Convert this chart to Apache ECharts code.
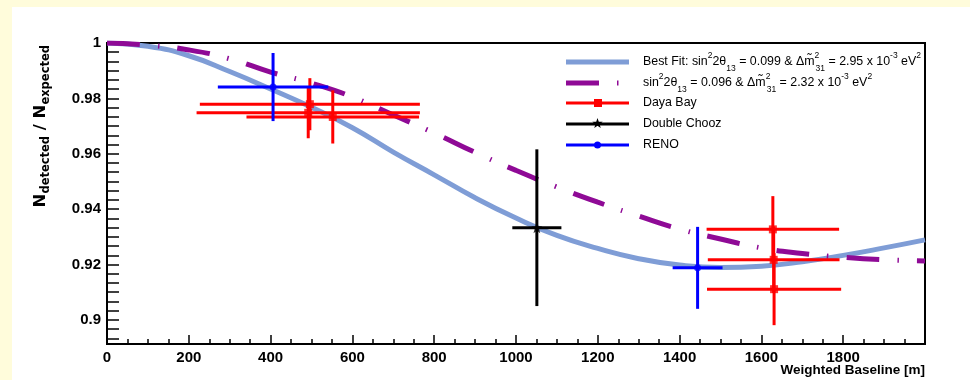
<!DOCTYPE html>
<html>
<head>
<meta charset="utf-8">
<script src="https://cdn.jsdelivr.net/npm/echarts@6/dist/echarts.min.js"></script>
<style>
  html, body { margin: 0; padding: 0; background: #fffcdb; }
  #chart { width: 970px; height: 380px; }
</style>
</head>
<body>
<div id="chart"></div>
<script>
// Baseline grid (m) for the two oscillation curves
const curveBaseline = [0, 100, 200, 300, 400, 500, 600, 700, 800, 900, 1000,
  1100, 1200, 1300, 1400, 1500, 1600, 1700, 1800, 1900, 2000];
// Best fit: sin^2 2theta13 = 0.099, dm31^2 = 2.95e-3 eV^2
const bestFitRatio = [1.0000, 0.9988, 0.9954, 0.9897, 0.9834, 0.9768, 0.9694, 0.9606, 0.9524, 0.9441, 0.9368,
  0.9305, 0.9258, 0.9221, 0.9198, 0.9189, 0.9194, 0.9210, 0.9233, 0.9260, 0.9289];
// Alternative: sin^2 2theta13 = 0.096, dm31^2 = 2.32e-3 eV^2
const altRatio = [1.0000, 0.9992, 0.9975, 0.9943, 0.9895, 0.9855, 0.9805, 0.9740, 0.9675, 0.9605, 0.9540,
  0.9480, 0.9425, 0.9375, 0.9328, 0.9292, 0.9260, 0.9240, 0.9226, 0.9217, 0.9213];

// Daya Bay detectors: baseline, ratio, baseline half-width, ratio error
const dayaBayBaseline = [496, 492, 552, 1628, 1630, 1631];
const dayaBayRatio = [0.9779, 0.9748, 0.9733, 0.9327, 0.9217, 0.9111];
const dayaBayBaselineErr = [269, 273, 211, 162, 161, 164];
const dayaBayRatioErr = [0.0094, 0.0092, 0.0096, 0.0120, 0.0120, 0.0130];

// Double Chooz far detector
const doubleChoozBaseline = [1051];
const doubleChoozRatio = [0.9333];
const doubleChoozBaselineErr = [60];
const doubleChoozRatioErr = [0.0283];

// RENO near and far detectors
const renoBaseline = [406, 1444];
const renoRatio = [0.9841, 0.9188];
const renoBaselineErr = [135, 61];
const renoRatioErr = [0.0123, 0.0148];

// Axis ticks
const yTickLabels = [0.9, 0.92, 0.94, 0.96, 0.98, 1];

const fitColor = '#7f9dd6';
const altColor = '#8f0a96';
const starPts = [[0, -10], [2.35, -3.24], [9.51, -3.09], [3.8, 1.24], [5.88, 8.09], [0, 4],
  [-5.88, 8.09], [-3.8, 1.24], [-9.51, -3.09], [-2.35, -3.24]];
const starPath = 'path://M' + starPts.map(p => p.join(',')).join(' L') + ' Z';

function zip(xs, ys) { return xs.map((x, i) => [x, ys[i]]); }
function errRows(xs, ys, exs, eys) { return xs.map((x, i) => [x, ys[i], exs[i], eys[i]]); }

function errorBars(color) {
  return function (params, api) {
    const x = api.value(0), y = api.value(1), ex = api.value(2), ey = api.value(3);
    const a = api.coord([x - ex, y]), b = api.coord([x + ex, y]);
    const c = api.coord([x, y + ey]), d = api.coord([x, y - ey]);
    const st = { stroke: color, lineWidth: 3 };
    return {
      type: 'group',
      children: [
        { type: 'line', shape: { x1: a[0], y1: a[1], x2: b[0], y2: b[1] }, style: st },
        { type: 'line', shape: { x1: c[0], y1: c[1], x2: d[0], y2: d[1] }, style: st }
      ]
    };
  };
}

// y tick marks: 6 subdivisions per 0.02
const yMinor = [];
for (let k = 0; k <= 32; k++) yMinor.push(+(0.89333 + 0.0033333 * k).toFixed(5));

const chart = echarts.init(document.getElementById('chart'), null, { renderer: 'canvas' });

const LF = 'Liberation Sans';
const LS = 12.4;
const legendRich = {
  t: { fontFamily: LF, fontSize: LS, lineHeight: 22, verticalAlign: 'middle' },
  sup: { fontFamily: LF, fontSize: 8.5, lineHeight: 10, verticalAlign: 'top' },
  supS: { fontFamily: LF, fontSize: 8.5, lineHeight: 10, verticalAlign: 'top', width: 1 },
  sub: { fontFamily: LF, fontSize: 8.5, lineHeight: 10, verticalAlign: 'bottom' }
};

function legendRow(y, sampleChildren, text) {
  return {
    type: 'group',
    children: sampleChildren.concat([{
      type: 'text', x: 643, y: y,
      style: { text: text, rich: legendRich, align: 'left', verticalAlign: 'middle', fill: '#000', fontFamily: LF, fontSize: LS }
    }])
  };
}

const option = {
  backgroundColor: '#fffcdb',
  animation: false,
  grid: { left: 107, top: 43, right: 45, bottom: 36, show: true, borderColor: '#000', borderWidth: 2, backgroundColor: 'transparent' },
  xAxis: {
    type: 'value', min: 0, max: 2000, interval: 200,
    axisLine: { show: true, onZero: false, lineStyle: { color: '#000', width: 2 } },
    axisTick: { show: true, inside: true, length: 9, lineStyle: { color: '#000', width: 1.5 } },
    minorTick: { show: true, splitNumber: 4, length: 5, lineStyle: { color: '#000', width: 1.5 } },
    splitLine: { show: false },
    axisLabel: {
      showMaxLabel: false, margin: 6, color: '#000',
      fontFamily: LF, fontWeight: 'bold', fontSize: 15,
      formatter: v => String(v)
    }
  },
  yAxis: {
    type: 'value', min: 0.8913, max: 1.0,
    axisLine: { show: true, onZero: false, lineStyle: { color: '#000', width: 2 } },
    axisTick: { show: true, inside: true, length: 12, customValues: yMinor, lineStyle: { color: '#000', width: 1.5 } },
    splitLine: { show: false },
    axisLabel: {
      customValues: yTickLabels, margin: 6, color: '#000',
      fontFamily: LF, fontWeight: 'bold', fontSize: 15,
      formatter: v => (Math.abs(v - 1) < 1e-9 ? '1' : String(+v.toFixed(2)))
    }
  },
  series: [
    {
      name: 'Best Fit', type: 'line', data: zip(curveBaseline, bestFitRatio),
      smooth: true, showSymbol: false, symbol: 'none', z: 2,
      lineStyle: { color: fitColor, width: 5 }
    },
    {
      name: 'Alternative', type: 'line', data: zip(curveBaseline, altRatio),
      smooth: true, showSymbol: false, symbol: 'none', z: 3,
      lineStyle: { color: altColor, width: 5, type: [33, 18, 1.5, 18], cap: 'butt' }
    },
    {
      name: 'Daya Bay err', type: 'custom', z: 5,
      renderItem: errorBars('#ff0000'),
      data: errRows(dayaBayBaseline, dayaBayRatio, dayaBayBaselineErr, dayaBayRatioErr)
    },
    {
      name: 'Daya Bay', type: 'scatter', z: 6, symbol: 'rect', symbolSize: 8,
      itemStyle: { color: '#ff0000' }, data: zip(dayaBayBaseline, dayaBayRatio)
    },
    {
      name: 'Double Chooz err', type: 'custom', z: 5,
      renderItem: errorBars('#000000'),
      data: errRows(doubleChoozBaseline, doubleChoozRatio, doubleChoozBaselineErr, doubleChoozRatioErr)
    },
    {
      name: 'Double Chooz', type: 'scatter', z: 6, symbol: starPath, symbolSize: 11,
      itemStyle: { color: '#000000' }, data: zip(doubleChoozBaseline, doubleChoozRatio)
    },
    {
      name: 'RENO err', type: 'custom', z: 5,
      renderItem: errorBars('#0000ff'),
      data: errRows(renoBaseline, renoRatio, renoBaselineErr, renoRatioErr)
    },
    {
      name: 'RENO', type: 'scatter', z: 6, symbol: 'circle', symbolSize: 7,
      itemStyle: { color: '#0000ff' }, data: zip(renoBaseline, renoRatio)
    }
  ],
  graphic: [
    // white pad
    { type: 'rect', z: -10, silent: true, shape: { x: 12, y: 7, width: 958, height: 373 }, style: { fill: '#ffffff' } },
    // y-axis title
    {
      type: 'text', x: 41, y: 45, rotation: Math.PI / 2, z: 10,
      style: {
        text: '{b|N}{s|detected}{b| / N}{s|expected}',
        align: 'right', verticalAlign: 'middle', fill: '#000',
        rich: {
          b: { fontFamily: 'DejaVu Sans', fontWeight: 'bold', fontSize: 16.5, lineHeight: 22, verticalAlign: 'middle' },
          s: { fontFamily: 'DejaVu Sans', fontWeight: 'bold', fontSize: 11.5, lineHeight: 12, verticalAlign: 'bottom' }
        }
      }
    },
    // x-axis title
    {
      type: 'text', x: 925, y: 370, z: 10,
      style: {
        text: 'Weighted Baseline [m]', align: 'right', verticalAlign: 'middle', fill: '#000',
        fontFamily: LF, fontWeight: 'bold', fontSize: 13.5
      }
    },
    // legend
    legendRow(62, [
      { type: 'line', shape: { x1: 566, y1: 62, x2: 629, y2: 62 }, style: { stroke: fitColor, lineWidth: 5 } }
    ], '{t|Best Fit: sin}{sup|2}{t|2θ}{sub|13}{t| = 0.099 & Δm̃}{supS|2}{sub|31}{t| = 2.95 x 10}{sup|-3}{t| eV}{sup|2}'),
    legendRow(83, [
      { type: 'line', shape: { x1: 566, y1: 83, x2: 629, y2: 83 }, style: { stroke: altColor, lineWidth: 5, lineDash: [33, 18, 1.5, 18], lineCap: 'butt' } }
    ], '{t|sin}{sup|2}{t|2θ}{sub|13}{t| = 0.096 & Δm̃}{supS|2}{sub|31}{t| = 2.32 x 10}{sup|-3}{t| eV}{sup|2}'),
    legendRow(103, [
      { type: 'line', shape: { x1: 566, y1: 103, x2: 629, y2: 103 }, style: { stroke: '#ff0000', lineWidth: 3 } },
      { type: 'rect', shape: { x: 594, y: 99, width: 8, height: 8 }, style: { fill: '#ff0000' } }
    ], '{t|Daya Bay}'),
    legendRow(124, [
      { type: 'line', shape: { x1: 566, y1: 124, x2: 629, y2: 124 }, style: { stroke: '#000', lineWidth: 3 } },
      { type: 'polygon', x: 597.5, y: 123.5, scaleX: 0.55, scaleY: 0.55, shape: { points: starPts }, style: { fill: '#000' } }
    ], '{t|Double Chooz}'),
    legendRow(145, [
      { type: 'line', shape: { x1: 566, y1: 145, x2: 629, y2: 145 }, style: { stroke: '#0000ff', lineWidth: 3 } },
      { type: 'circle', shape: { cx: 597.5, cy: 145, r: 3.5 }, style: { fill: '#0000ff' } }
    ], '{t|RENO}')
  ]
};

chart.setOption(option);
</script>
</body>
</html>
